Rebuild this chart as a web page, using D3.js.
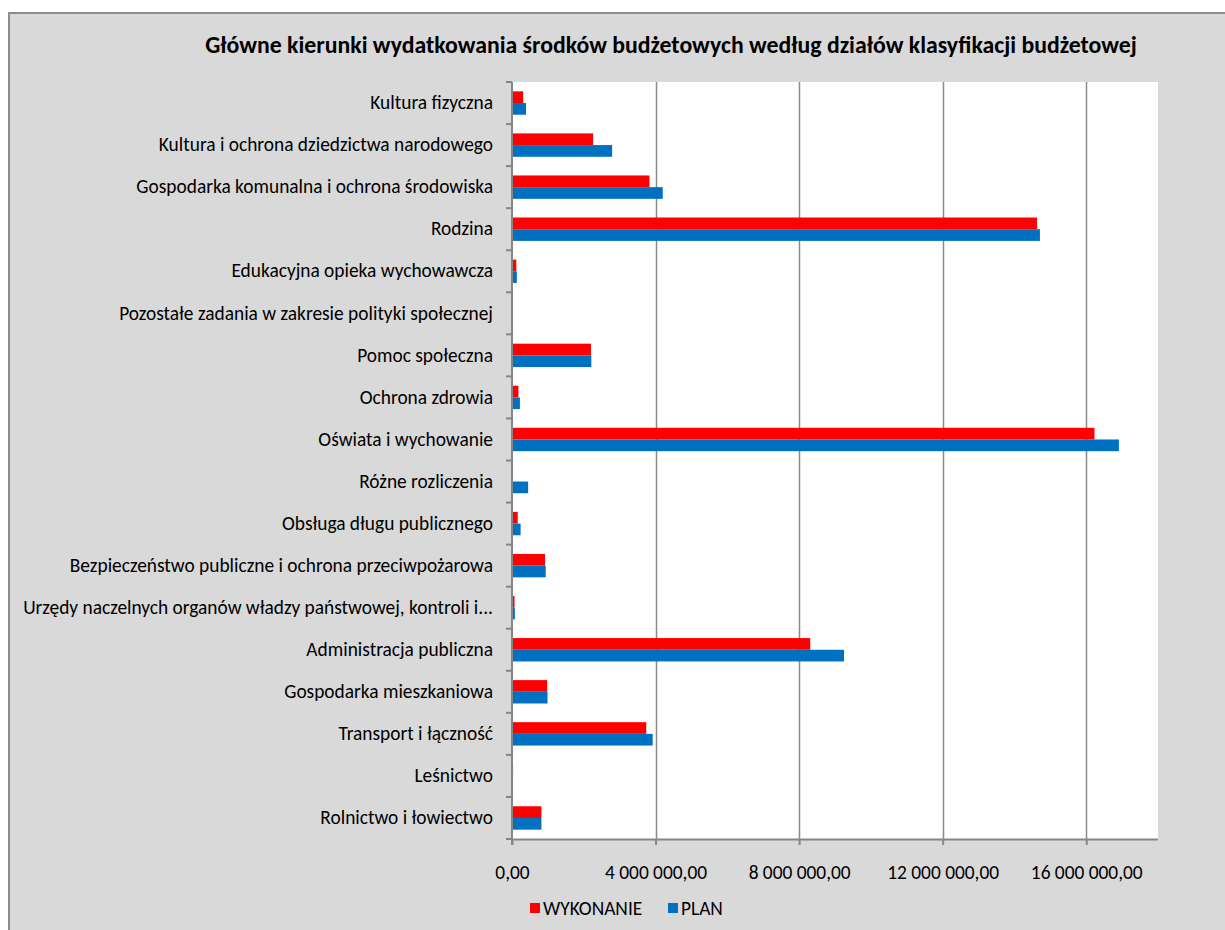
<!DOCTYPE html>
<html>
<head>
<meta charset="utf-8">
<script src="https://cdn.jsdelivr.net/npm/d3@7"></script>
<style>
  html, body { margin: 0; padding: 0; background: #ffffff; }
  svg { display: block; }
  text { font-family: Carlito, Calibri, Lato, "Open Sans", sans-serif; fill: #000; }
</style>
</head>
<body>
<svg id="chart" width="1225" height="930"></svg>
<script>
const categories = [
  "Kultura fizyczna",
  "Kultura i ochrona dziedzictwa narodowego",
  "Gospodarka komunalna i ochrona środowiska",
  "Rodzina",
  "Edukacyjna opieka wychowawcza",
  "Pozostałe zadania w zakresie polityki społecznej",
  "Pomoc społeczna",
  "Ochrona zdrowia",
  "Oświata i wychowanie",
  "Różne rozliczenia",
  "Obsługa długu publicznego",
  "Bezpieczeństwo publiczne i ochrona przeciwpożarowa",
  "Urzędy naczelnych organów władzy państwowej, kontroli i...",
  "Administracja publiczna",
  "Gospodarka mieszkaniowa",
  "Transport i łączność",
  "Leśnictwo",
  "Rolnictwo i łowiectwo"
];
const wykonanie = [310000, 2260000, 3830000, 14630000, 120000, 0, 2200000, 180000, 16230000, 0, 160000, 920000, 70000, 8310000, 980000, 3740000, 30000, 820000];
const plan      = [390000, 2790000, 4200000, 14710000, 135000, 0, 2210000, 220000, 16910000, 450000, 240000, 940000, 80000, 9250000, 990000, 3920000, 20000, 820000];
const seriesNames = ["WYKONANIE", "PLAN"];
const seriesColors = ["#ff0000", "#0070c0"];
const xTicks = [0, 4000000, 8000000, 12000000, 16000000];
const xMax = 18000000;
const chartTitle = "Główne kierunki wydatkowania środków budżetowych według działów klasyfikacji budżetowej";

const svg = d3.select("#chart");
const W = 1225, H = 930;
const plot = { left: 512, right: 1158, top: 82, bottom: 839 };

// chart background + border
svg.append("rect").attr("x", 9).attr("y", 13).attr("width", W - 9 + 5).attr("height", H - 13 + 5)
  .attr("fill", "#d9d9d9").attr("stroke", "#8c8c8c").attr("stroke-width", 2);

// plot area
svg.append("rect").attr("x", plot.left).attr("y", plot.top)
  .attr("width", plot.right - plot.left).attr("height", plot.bottom - plot.top).attr("fill", "#ffffff");

const x = d3.scaleLinear().domain([0, xMax]).range([plot.left, plot.right]);
const y = d3.scaleBand().domain(categories).range([plot.top, plot.bottom])
  .paddingInner(0.444).paddingOuter(0.222);
const ySub = d3.scaleBand().domain(seriesNames).range([0, y.bandwidth()]);

// gridlines
svg.append("g").selectAll("line").data(xTicks.filter(d => d > 0)).join("line")
  .attr("x1", d => Math.round(x(d)) + 0.5).attr("x2", d => Math.round(x(d)) + 0.5)
  .attr("y1", plot.top).attr("y2", plot.bottom)
  .attr("stroke", "#8a8a8a").attr("stroke-width", 1.5);

// bars
const data = categories.map((c, i) => ({ cat: c, vals: [wykonanie[i], plan[i]] }));
const groups = svg.append("g").selectAll("g").data(data).join("g")
  .attr("transform", d => `translate(0,${y(d.cat)})`);
groups.selectAll("rect").data(d => d.vals.map((v, k) => ({ v, k }))).join("rect")
  .attr("x", x(0))
  .attr("y", d => ySub(seriesNames[d.k]))
  .attr("width", d => x(d.v) - x(0))
  .attr("height", ySub.bandwidth())
  .attr("fill", d => seriesColors[d.k]);

// bottom axis
const fmt = v => {
  const s = d3.format(",.2f")(v);
  return s.replace(/,/g, " ").replace(".", ",");
};
const xAxis = d3.axisBottom(x).tickValues(xTicks).tickSize(6).tickPadding(20).tickFormat(fmt);
const gx = svg.append("g").attr("transform", `translate(0,${plot.bottom})`).call(xAxis);
gx.select(".domain").attr("stroke", "#868686").attr("stroke-width", 2)
  .attr("d", `M${plot.left},0.5H${plot.right}`);
gx.selectAll(".tick line").attr("stroke", "#868686").attr("stroke-width", 2);
gx.selectAll(".tick text").attr("font-size", 15).attr("fill", "#000")
  .style("font-family", "Carlito, Calibri, Lato, sans-serif");

// left axis
const yAxis = d3.axisLeft(y).tickSize(0).tickPadding(19);
const gy = svg.append("g").attr("transform", `translate(${plot.left},0)`).call(yAxis);
gy.select(".domain").attr("stroke", "#868686").attr("stroke-width", 2)
  .attr("d", `M0,${plot.top}V${plot.bottom + 6}`);
gy.selectAll(".tick text").attr("font-size", 15).attr("fill", "#000")
  .style("font-family", "Carlito, Calibri, Lato, sans-serif");
// category boundary tick marks
const bounds = d3.range(categories.length + 1).map(i => plot.top + i * y.step());
gy.append("g").selectAll("line").data(bounds).join("line")
  .attr("x1", -6).attr("x2", 0).attr("y1", d => d).attr("y2", d => d)
  .attr("stroke", "#868686").attr("stroke-width", 2);

// fit label font size so longest label matches reference width
const labelTexts = gy.selectAll(".tick text");
let maxW = 0;
labelTexts.each(function () { maxW = Math.max(maxW, this.getComputedTextLength()); });
const labelSize = 15 * 470 / maxW;
labelTexts.attr("font-size", labelSize);
gx.selectAll(".tick text").attr("font-size", labelSize);

// title
const title = svg.append("text").attr("x", 671).attr("y", 53).attr("text-anchor", "middle")
  .attr("font-weight", "bold").attr("font-size", 18).text(chartTitle);
const tw = title.node().getComputedTextLength();
title.attr("font-size", 18 * 932 / tw);

// legend
const legend = svg.append("g").attr("transform", "translate(530,908)");
const legX = [0, 138];
seriesNames.forEach((n, k) => {
  const g = legend.append("g").attr("transform", `translate(${legX[k]},0)`);
  g.append("rect").attr("x", 0).attr("y", -5).attr("width", 10).attr("height", 10).attr("fill", seriesColors[k]);
  g.append("text").attr("x", 13).attr("y", 0).attr("dy", "0.35em").attr("font-size", labelSize).text(n);
});
</script>
</body>
</html>
